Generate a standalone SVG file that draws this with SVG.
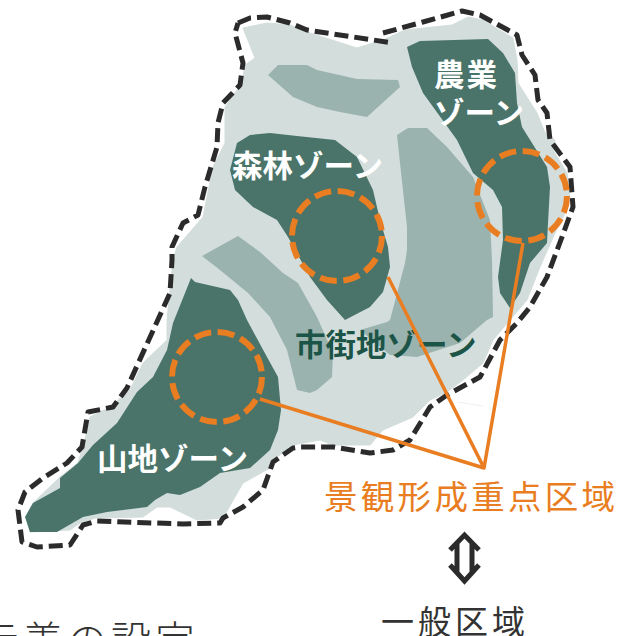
<svg xmlns="http://www.w3.org/2000/svg" width="621" height="636" viewBox="0 0 621 636">
<style>
.t{font-family:"Noto Sans CJK JP","Noto Sans",sans-serif}
.z{font-size:30.500px;font-weight:700;fill:#fff}
.d{fill:#4a7469}
.m{fill:#9bb3ae}
.c{fill:none;stroke:#e97d22;stroke-width:6;stroke-dasharray:17 6.6}
.o{fill:none;stroke:#2b2b2b;stroke-width:5;stroke-dasharray:14 6;stroke-linejoin:round}
</style>
<rect width="621" height="636" fill="#fff"/>
<g id="map">
<path fill="#d3dedc" stroke="#d3dedc" stroke-width="1" stroke-linejoin="round" d="M243 28L267 23L290 25L307 32L357 48L383 40L405 30L452 25L468 17L483 20L513 38L517 60L518 83L537 113L545 133L555 140L553 150L567 173L570 200L565 213L555 233L540 267L527 300L510 320L493 340L483 363L463 380L447 392L430 400L413 417L383 430L370 445L333 445L320 440L293 445L277 457L270 468L243 483L223 518L197 520L170 507L157 507L143 517L95 518L80 523L70 530L30 532L26 517L33 503L60 477L78 463L85 440L90 417L110 407L130 390L143 363L167 340L167 320L173 260L177 247L203 217L213 167L225 143L225 107L242 83L245 65L255 58Z"/>
<path class="m" d="M268 75L278 65L307 65L317 70L357 79L398 80L400 87L367 117L340 112L317 107L293 97Z"/>
<path class="m" d="M397 135L408 128L427 128L447 147L473 177L490 220L492 260L493 317L487 320L460 343L417 357L390 355L360 330L387 322L390 320L405 263L407 250L407 227L400 163Z"/>
<path class="m" d="M202 256L238 236L260 252L283 273L298 283L317 317L333 353L332 377L317 390L310 393L297 390L287 350L270 317L248 293L220 270Z"/>
<path stroke="#dfe7e5" stroke-width=".6" fill="none" d="M457 402L483 406"/>
<path class="o" d="M238 23L250 18L267 17L290 23L307 30L393 43"/>
<path class="o" d="M383 33L423 22L462 11L480 15L517 35L522 55L535 75L538 100L547 113L550 140L570 167L573 207L562 237L547 277L530 307L517 323L500 340L480 377L447 395L430 407L410 440L393 450L370 453L333 447L300 447L293 448L273 462L263 490L243 507L223 518L220 523L183 524L97 521L83 525L70 545L37 547L22 542L18 510L25 492L43 478L67 463L82 447L88 412L113 407L127 388L170 293L172 260L172 247L183 223L198 215L205 187L217 147L218 123L223 103L240 85L243 63L235 33L238 23"/>
</g>
<g id="zone-nogyo">
<path class="d" d="M407 47L420 41L488 39L503 53L515 73L517 103L522 127L547 167L550 187L548 223L547 243L530 263L520 293L510 308L500 293L498 277L503 240L502 207L493 190L473 173L457 140L423 93L412 67Z"/>
<text class="t z" x="434" y="86" letter-spacing="2">農業</text>
<text class="t z" x="434" y="124">ゾーン</text>
</g>
<g id="zone-shinrin">
<path class="d" d="M230 170L237 143L250 135L270 133L297 136L335 140L357 157L373 190L380 220L388 247L390 267L383 292L370 307L345 320L327 300L310 277L288 237L277 220L253 207L235 190Z"/>
<text class="t z" x="232" y="177">森林ゾーン</text>
</g>
<g id="zone-sanchi">
<path class="d" d="M191 278L195 282L230 290L238 300L247 320L267 357L278 377L281 410L278 430L270 450L250 468L220 473L200 487L180 495L167 493L155 500L147 507L107 512L83 517L57 532L30 532L25 517L33 503L60 488L60 478L78 463L93 445L117 423L137 392L153 377L167 350L173 323Z"/>
<text class="t z" x="97" y="470">山地ゾーン</text>
</g>
<g id="zone-shigaichi">
<text class="t" x="295" y="356" font-size="30.500" font-weight="700" fill="#1c5447">市街地ゾーン</text>
</g>
<g id="connectors" fill="none" stroke="#e97d22" stroke-width="3.5" stroke-linejoin="round">
<path d="M260 399L484 468L388 277M484 468L523 243"/>
</g>
<g id="key-areas">
<circle class="c" cx="337" cy="236" r="45"/>
<circle class="c" cx="522" cy="196" r="45"/>
<circle class="c" cx="217" cy="377" r="45"/>
</g>
<g id="legend">
<text class="t" x="324" y="509" font-size="33.500" letter-spacing="3.300" fill="#e97d22">景観形成重点区域</text>
<path fill="none" stroke="#2b2b2b" stroke-width="5" d="M450 550L464.500 535L479 550M457 543V574M472 543V574M450 565L464.500 581L479 565"/>
<text class="t" x="381" y="634" font-size="33" letter-spacing="4" fill="#333">一般区域</text>
<text class="t" x="-21" y="655" font-size="40" font-weight="300" letter-spacing="4" fill="#333">示義の設定</text>
</g>
</svg>
